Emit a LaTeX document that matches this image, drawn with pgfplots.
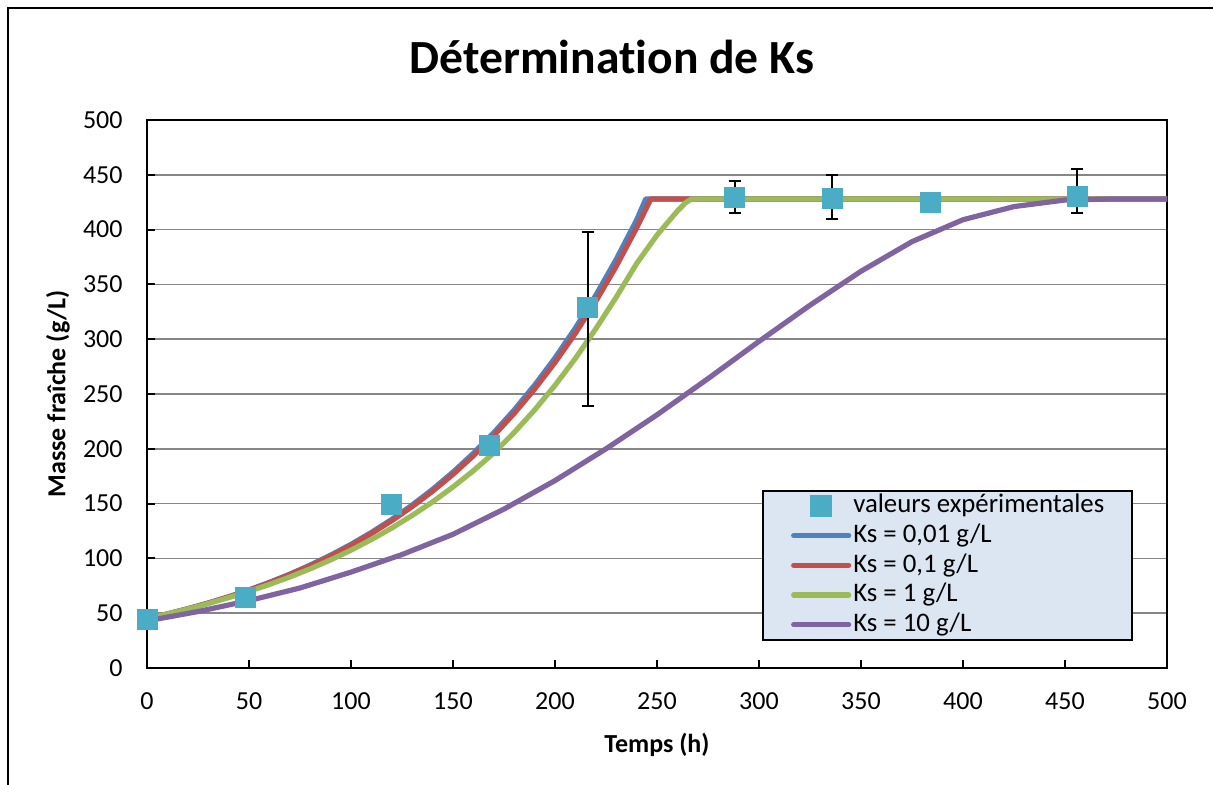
\documentclass[border=0pt]{standalone}
\usepackage{fontspec}
\setmainfont{Carlito}[Ligatures=NoCommon]
\usepackage{pgfplots}
\pgfplotsset{compat=1.18}
\definecolor{cBlue}{HTML}{4F81BD}
\definecolor{cRed}{HTML}{C0504D}
\definecolor{cGreen}{HTML}{9BBB59}
\definecolor{cPurple}{HTML}{8064A2}
\definecolor{cAqua}{HTML}{4BACC6}
\definecolor{cLeg}{HTML}{DCE6F2}
\definecolor{cGrid}{HTML}{868686}
\pgfplotsset{
  marklegend/.style={legend image code/.code={\path[draw=none,fill=none] (0pt,-1pt) rectangle (27.5pt,1pt); \draw[##1] plot coordinates {(13.75pt,0pt)};}},
  linelegend/.style={legend image code/.code={\draw[##1, line cap=round] (0pt,0pt) -- (27.5pt,0pt);}},
}
\begin{document}
\begin{tikzpicture}
\useasboundingbox (0,0) rectangle (606.5pt,392.5pt);
\draw[line width=1pt] (3.75pt,-20pt) -- (3.75pt,388.5pt) -- (640pt,388.5pt);
\begin{axis}[
  at={(73.5pt,58.5pt)}, anchor=south west,
  scale only axis, width=510pt, height=274pt,
  xmin=0, xmax=500, ymin=0, ymax=500,
  xtick={0,50,...,500}, ytick={0,50,...,500},
  ymajorgrids, grid style={draw=cGrid, line width=0.8pt},
  axis line style={line width=1pt, black},
  tick style={black, line width=1pt},
  major tick length=4pt, tick align=inside,
  xtick pos=bottom, ytick pos=left,
  /pgf/number format/assume math mode=true,
  tick label style={font=\fontsize{13}{15}\selectfont},
  xticklabel style={yshift=-8.7pt},
  yticklabel style={xshift=-8.7pt},
  title={Détermination de Ks},
  title style={at={(axis description cs:0.456,1.093)}, anchor=center, font=\fontsize{23.8}{28}\selectfont\bfseries},
  xlabel={Temps (h)}, ylabel={Masse fraîche (g/L)},
  label style={font=\fontsize{13}{15}\selectfont\bfseries},
  xlabel style={at={(axis description cs:0.5,-0.1405)}, anchor=center},
  ylabel style={at={(axis description cs:-0.0873,0.5)}, anchor=center},
  clip=false,
  legend style={at={(axis description cs:0.603,0.325)}, anchor=north west, fill=cLeg, draw=black, line width=1pt,
    inner xsep=14pt, inner ysep=1pt, font=\fontsize{13.4}{15}\selectfont, cells={anchor=west},
    nodes={inner sep=0pt, text height=10pt, text depth=3pt}, row sep=1.85pt, column sep=1pt},
]
\addlegendimage{only marks, mark=square*, mark size=5pt, mark options={fill=cAqua, draw=cAqua}, marklegend}
\addlegendentry{valeurs expérimentales}
\addlegendimage{cBlue, line width=2.6pt, linelegend}
\addlegendentry{Ks = 0,01 g/L}
\addlegendimage{cRed, line width=2.6pt, linelegend}
\addlegendentry{Ks = 0,1 g/L}
\addlegendimage{cGreen, line width=2.6pt, linelegend}
\addlegendentry{Ks = 1 g/L}
\addlegendimage{cPurple, line width=2.6pt, linelegend}
\addlegendentry{Ks = 10 g/L}

\addplot[forget plot, cBlue, line width=2.6pt, line join=round] coordinates {
(0,45) (10,49.3) (20,54.1) (30,59.3) (40,65.0) (50,71.3) (60,78.1) (70,85.6) (80,93.9) (90,102.9)
(100,112.8) (110,123.7) (120,135.6) (130,148.7) (140,163.0) (150,178.7) (160,195.9) (170,214.7)
(180,235.4) (190,258.1) (200,282.9) (210,310.2) (220,340.1) (230,372.8) (240,408.7) (244.5,428) (500,428)};
\addplot[forget plot, cRed, line width=2.6pt, line join=round] coordinates {
(0,45) (10,49.3) (20,54.0) (30,59.2) (40,64.8) (50,71.0) (60,77.8) (70,85.2) (80,93.3) (90,102.2)
(100,112.0) (110,122.7) (120,134.4) (130,147.3) (140,161.3) (150,176.7) (160,193.6) (170,212.1)
(180,232.3) (190,254.5) (200,278.8) (210,305.4) (220,334.6) (230,366.5) (240,401.5) (247,428) (500,428)};
\addplot[forget plot, cGreen, line width=2.6pt, line join=round] coordinates {
(0,45) (10,49.3) (20,53.8) (30,58.8) (40,64.2) (50,70.0) (60,76.2) (70,83.0) (80,90.5) (90,98.6)
(100,107.5) (110,117.2) (120,127.7) (130,139.2) (140,151.6) (150,165.2) (160,180.0) (170,196.2)
(180,214.9) (190,235.4) (200,257.9) (210,282.5) (220,309.5) (230,338.3) (240,369) (250,395)
(255,406) (260,417) (264,424.5) (267,428) (500,428)};
\addplot[forget plot, cPurple, line width=2.6pt, line join=round] coordinates {
(0,43) (25,51.5) (50,61.5) (75,73) (100,87.5) (125,103.5) (150,122) (175,145) (200,171)
(225,200) (250,231) (275,264) (300,298) (325,331) (350,362) (375,389) (400,409) (425,421)
(450,427) (475,428) (500,428)};
\addplot[forget plot, draw=none, error bars/.cd, y dir=both, y explicit,
  error bar style={draw=black, line width=1pt},
  error mark options={rotate=90, draw=black, mark size=3pt, line width=1pt}] coordinates {
(216,329.4) += (0,68.6) -= (0,90.4)
(288,429) += (0,15.3) -= (0,14.1)
(336,428.4) += (0,21.6) -= (0,19)
(456,430.5) += (0,24.5) -= (0,15.6)};
\addplot[forget plot, only marks, mark=square*, mark size=5pt, mark options={fill=cAqua, draw=cAqua}] coordinates {
(0,44.7) (48,64.8) (120,149.6) (168,203.5) (216,329.4) (288,429) (336,428.4) (384,424.5) (456,430.5)};
\end{axis}
\end{tikzpicture}
\end{document}
